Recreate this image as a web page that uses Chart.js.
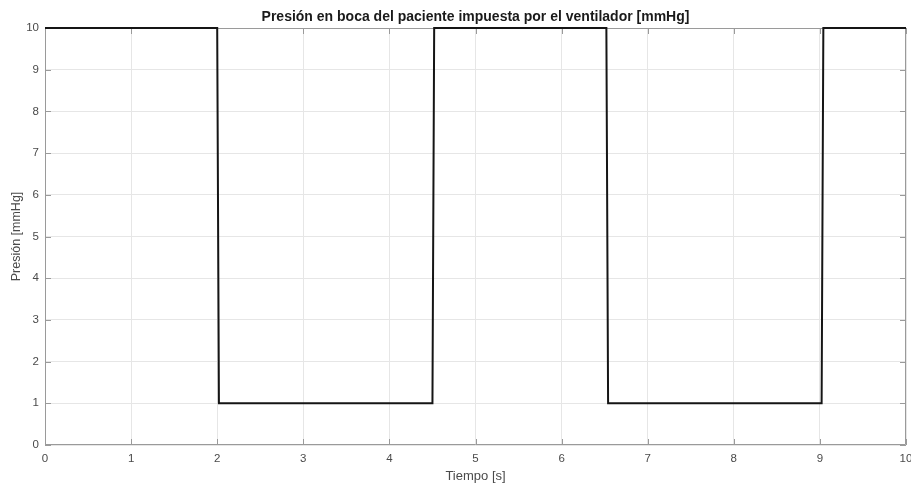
<!DOCTYPE html>
<html>
<head>
<meta charset="utf-8">
<script src="https://cdn.jsdelivr.net/npm/chart.js@4"></script>
<style>
  html, body { margin: 0; padding: 0; background: #fff; }
  #wrap { width: 911px; height: 487px; }
</style>
</head>
<body>
<div id="wrap"><canvas id="presion"></canvas></div>
<script>
// Señal de presión (onda cuadrada del ventilador)
const tiempo  = [0, 2, 2.02, 4.5, 4.52, 6.52, 6.54, 9.02, 9.04, 10];
const presion = [10, 10, 1, 1, 10, 10, 1, 1, 10, 10];
const ejeX = [0, 1, 2, 3, 4, 5, 6, 7, 8, 9, 10];
const ejeY = [0, 1, 2, 3, 4, 5, 6, 7, 8, 9, 10];

const boxColor = '#9a9a9a';
const textColor = '#4a4a4a';

// caja con marcas hacia dentro, estilo MATLAB
const boxPlugin = {
    id: 'boxPlugin',
    beforeDatasetsDraw(chart) {
        const { ctx, chartArea: a, scales } = chart;
        ctx.save();
        ctx.strokeStyle = boxColor;
        ctx.lineWidth = 1;
        ctx.beginPath();
        ctx.rect(a.left + 0.5, a.top + 0.5, a.right - a.left - 1, a.bottom - a.top - 1);
        ctx.stroke();
        ctx.beginPath();
        ejeX.forEach(v => {
            const x = Math.round(scales.x.getPixelForValue(v)) + 0.5;
            ctx.moveTo(x, a.bottom); ctx.lineTo(x, a.bottom - 6);
            ctx.moveTo(x, a.top); ctx.lineTo(x, a.top + 6);
        });
        ejeY.forEach(v => {
            const y = Math.round(scales.y.getPixelForValue(v)) + 0.5;
            ctx.moveTo(a.left, y); ctx.lineTo(a.left + 6, y);
            ctx.moveTo(a.right, y); ctx.lineTo(a.right - 6, y);
        });
        ctx.stroke();
        ctx.restore();
    }
};

new Chart(document.getElementById('presion'), {
    type: 'scatter',
    data: {
        datasets: [{
            data: tiempo.map((t, i) => ({ x: t, y: presion[i] })),
            showLine: true,
            borderColor: '#151515',
            borderWidth: 2,
            pointRadius: 0,
            tension: 0,
            clip: false
        }]
    },
    options: {
        responsive: true,
        maintainAspectRatio: false,
        animation: false,
        layout: { padding: { left: 0, right: 5, top: 0, bottom: 0 } },
        plugins: {
            legend: { display: false },
            tooltip: { enabled: false },
            title: {
                display: true,
                fullSize: false,
                text: 'Presión en boca del paciente impuesta por el ventilador [mmHg]',
                color: '#1a1a1a',
                font: { family: 'Liberation Sans', size: 14, weight: 'bold' },
                padding: { top: 8.6, bottom: 2.6 }
            }
        },
        scales: {
            x: {
                type: 'linear',
                min: 0, max: 10,
                afterBuildTicks: s => { s.ticks = ejeX.map(v => ({ value: v })); },
                afterFit: s => { s.height = 42; s.paddingLeft = 0; s.paddingRight = 0; },
                grid: { color: '#e6e6e6', drawTicks: false },
                border: { display: false },
                ticks: { color: textColor, padding: 7, maxRotation: 0,
                         font: { family: 'Liberation Sans', size: 11.5 } },
                title: { display: true, text: 'Tiempo [s]', color: textColor,
                         font: { family: 'Liberation Sans', size: 13 },
                         padding: { top: 0, bottom: 3.2 } }
            },
            y: {
                min: 0, max: 10,
                afterBuildTicks: s => { s.ticks = ejeY.map(v => ({ value: v })); },
                afterFit: s => { s.width = 45; s.paddingTop = 0; s.paddingBottom = 0; },
                grid: { color: '#e6e6e6', drawTicks: false },
                border: { display: false },
                ticks: { color: textColor, padding: 6,
                         font: { family: 'Liberation Sans', size: 11.5 } },
                title: { display: true, text: 'Presión [mmHg]', color: textColor,
                         font: { family: 'Liberation Sans', size: 12.5 },
                         padding: { top: 9.5, bottom: 0 } }
            }
        }
    },
    plugins: [boxPlugin]
});
</script>
</body>
</html>
